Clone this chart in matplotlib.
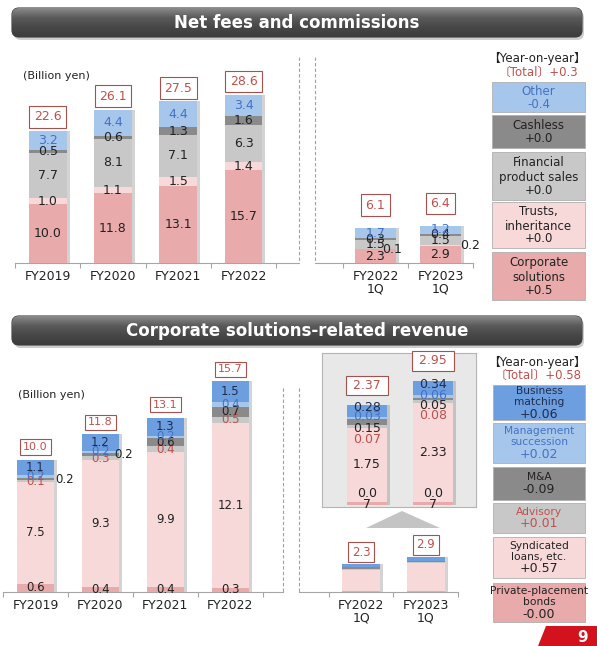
import numpy as np
import matplotlib.pyplot as plt
from matplotlib.patches import FancyBboxPatch, Rectangle, Polygon
from matplotlib.lines import Line2D
from matplotlib.colors import LinearSegmentedColormap

plt.rcParams['font.family'] = ['DejaVu Sans', 'Noto Sans CJK JP']

W, H = 597, 646

# Net fees and commissions (billion yen) #####################################
years = ['FY2019', 'FY2020', 'FY2021', 'FY2022']
quarters = ['FY2022\n1Q', 'FY2023\n1Q']
fee_names = ['Corporate\nsolutions', 'Trusts,\ninheritance',
             'Financial\nproduct sales', 'Cashless', 'Other']
fee_corp = [10.0, 11.8, 13.1, 15.7]
fee_trust = [1.0, 1.1, 1.5, 1.4]
fee_fin = [7.7, 8.1, 7.1, 6.3]
fee_cash = [0.5, 0.6, 1.3, 1.6]
fee_other = [3.2, 4.4, 4.4, 3.4]
fee_total = [22.6, 26.1, 27.5, 28.6]

q_fee_corp = [2.3, 2.9]
q_fee_trust = [0.1, 0.2]
q_fee_fin = [1.5, 1.5]
q_fee_cash = [0.3, 0.4]
q_fee_other = [1.7, 1.2]
q_fee_total = [6.1, 6.4]
fee_yoy = ['+0.5', '+0.0', '+0.0', '+0.0', '-0.4']
fee_yoy_total = '+0.3'

# Corporate solutions-related revenue (billion yen) ##########################
cs_names = ['Private-placement\nbonds', 'Syndicated\nloans, etc.', 'Advisory',
            'M&A', 'Management\nsuccession', 'Business\nmatching']
cs_ppb = [0.6, 0.4, 0.4, 0.3]
cs_synd = [7.5, 9.3, 9.9, 12.1]
cs_adv = [0.1, 0.3, 0.4, 0.5]
cs_ma = [0.2, 0.2, 0.6, 0.7]
cs_mgmt = [0.2, 0.2, 0.2, 0.4]
cs_bm = [1.1, 1.2, 1.3, 1.5]
cs_total = [10.0, 11.8, 13.1, 15.7]

q_cs_ppb = [0.07, 0.07]
q_cs_synd = [1.75, 2.33]
q_cs_adv = [0.07, 0.08]
q_cs_ma = [0.15, 0.05]
q_cs_mgmt = [0.03, 0.06]
q_cs_bm = [0.28, 0.34]
q_cs_total = [2.37, 2.95]
q_cs_total_short = [2.3, 2.9]
cs_yoy = ['-0.00', '+0.57', '+0.01', '-0.09', '+0.02', '+0.06']
cs_yoy_total = '+0.58'

# colours
PINK = '#e8aaaa'
LPINK = '#f8d9d9'
LGRAY = '#c8c8c8'
DGRAY = '#8a8a8a'
LBLUE = '#a6c6ec'
MBLUE = '#6c9ee0'
RED = '#c0504d'
BLUE = '#4472c4'
INK = '#222222'
NAVY = '#1f2d4d'
AXIS = '#a6a6a6'

fee_colors = [PINK, LPINK, LGRAY, DGRAY, LBLUE]
fee_txt = [INK, INK, INK, INK, BLUE]
cs_colors = [PINK, LPINK, LGRAY, DGRAY, LBLUE, MBLUE]
cs_txt = [INK, INK, RED, INK, BLUE, NAVY]

fig = plt.figure(figsize=(W / 100, H / 100), dpi=100)

# pixel-space overlay for banners, legends and decorations
ov = fig.add_axes([0, 0, 1, 1])
ov.axis('off')


def px_axes(x0, y0, x1, y1):
    return fig.add_axes([x0 / W, 1 - y1 / H, (x1 - x0) / W, (y1 - y0) / H])


def style_axis(ax, xlim, ylim, labels):
    ax.set_xlim(*xlim)
    ax.set_ylim(*ylim)
    ax.patch.set_alpha(0)
    for s in ['top', 'right', 'left']:
        ax.spines[s].set_visible(False)
    ax.spines['bottom'].set_color(AXIS)
    ax.spines['bottom'].set_linewidth(0.8)
    ax.set_yticks([])
    n = len(labels)
    ax.set_xticks(np.arange(n))
    ax.set_xticklabels(labels, fontsize=9, linespacing=1.0, color=INK)
    ax.set_xticks(np.arange(n + 1) - 0.5, minor=True)
    ax.tick_params(axis='x', which='major', length=0, pad=5)
    ax.tick_params(axis='x', which='minor', length=3.5, color=AXIS, width=0.8)


def draw_stack(ax, layers, colors, txt_colors, width, px_x, fs,
               fmt='{:.1f}', outside=None, nudge=None, wrap=(), labels=True):
    layers = np.asarray(layers, dtype=float)
    x = np.arange(layers.shape[1])
    tops = layers.sum(axis=0)
    ax.bar(x + 3.0 / px_x, tops, width, color='#6e6e6e', alpha=0.3,
           lw=0, zorder=2)
    base = np.zeros(len(x))
    for i, vals in enumerate(layers):
        ax.bar(x, vals, width, bottom=base, color=colors[i], lw=0, zorder=3)
        if labels:
            for j, v in enumerate(vals):
                s = fmt.format(v)
                if i in wrap:
                    s = s[:3] + '\n' + s[3:]
                xp = j + (outside or {}).get((i, j), 0)
                dy = (nudge[i] if nudge else 0) * 0.72
                ax.annotate(s, (xp, base[j] + v / 2), xytext=(0, dy),
                            textcoords='offset points', ha='center',
                            va='center', fontsize=fs, color=txt_colors[i],
                            linespacing=0.85, zorder=5)
        base = base + vals
    return tops


def total_boxes(ax, totals, fmt, fs, dy, pad):
    for j, t in enumerate(totals):
        ax.annotate(fmt.format(t), (j, t), xytext=(0, dy),
                    textcoords='offset points', ha='center', va='bottom',
                    fontsize=fs, color=RED, zorder=6,
                    bbox=dict(boxstyle='square,pad=%.2f' % pad, fc='white',
                              ec='#a8504c', lw=0.8))


# Net fees and commissions, full years ########################################
ax1 = px_axes(15, 50, 299, 263)
style_axis(ax1, (-0.5, 3.85), (0, 213 / 5.9), years)
draw_stack(ax1, [fee_corp, fee_trust, fee_fin, fee_cash, fee_other],
           fee_colors, fee_txt, 0.58, 65.3, 9)
total_boxes(ax1, fee_total, '{:.1f}', 9, 4.5, 0.35)

# Net fees and commissions, first quarters ###################################
ax2 = px_axes(315, 50, 473, 263)
style_axis(ax2, (-0.93, 1.5), (0, 213 / 5.9), quarters)
draw_stack(ax2, [q_fee_corp, q_fee_trust, q_fee_fin, q_fee_cash, q_fee_other],
           fee_colors, fee_txt, 0.64, 65, 9,
           outside={(1, 0): 0.26, (1, 1): 0.45})
total_boxes(ax2, q_fee_total, '{:.1f}', 9, 11, 0.35)

# Corporate solutions-related revenue, full years ############################
cs_layers = [cs_ppb, cs_synd, cs_adv, cs_ma, cs_mgmt, cs_bm]
ax3 = px_axes(3, 360, 283, 592)
style_axis(ax3, (-0.5, 3.81), (0, 232 / 13.6), years)
draw_stack(ax3, cs_layers, cs_colors, cs_txt, 0.58, 65, 8.5,
           outside={(3, 0): 0.44, (3, 1): 0.36})
total_boxes(ax3, cs_total, '{:.1f}', 8, 3, 0.25)

# first quarters, small bars
q_cs_layers = [q_cs_ppb, q_cs_synd, q_cs_adv, q_cs_ma, q_cs_mgmt, q_cs_bm]
ax4 = px_axes(299, 530, 458, 592)
style_axis(ax4, (-0.965, 1.5), (0, 62 / 12.1), quarters)
draw_stack(ax4, q_cs_layers, cs_colors, cs_txt, 0.59, 64.5, 8, labels=False)
total_boxes(ax4, q_cs_total_short, '{:.1f}', 8.5, 4, 0.3)

# first quarters, magnified
ax5 = px_axes(322, 353, 476, 507)
ax5.set_xlim(-0.68, 1.65)
ax5.set_ylim(-2 / 42.4, 152 / 42.4)
ax5.set_facecolor('#e8e8e8')
for s in ax5.spines.values():
    s.set_color('#b4b4b4')
    s.set_linewidth(0.8)
ax5.set_xticks([])
ax5.set_yticks([])
draw_stack(ax5, q_cs_layers, cs_colors, cs_txt, 0.6, 66, 9, fmt='{:.2f}',
           nudge=[4.5, 0, -13.5, -6.5, 1, 3.5], wrap=(0,))
total_boxes(ax5, q_cs_total, ' {:.2f} ', 9, 9, 0.25)

# pixel-space decorations ######################################################
grad_cmap = LinearSegmentedColormap.from_list(
    'banner', ['#8a8a8a', '#5a5a5a', '#474747', '#3c3c3c'])


def banner(y0, h, title):
    sh = FancyBboxPatch((14, y0 + 3), 570, h,
                        boxstyle='round,pad=0,rounding_size=7',
                        fc='#cdcdcd', ec='none', zorder=1)
    ov.add_patch(sh)
    box = FancyBboxPatch((12, y0), 570, h,
                         boxstyle='round,pad=0,rounding_size=7',
                         fc='#555555', ec='#3a3a3a', lw=0.8, zorder=2)
    ov.add_patch(box)
    grad = np.linspace(0, 1, 64).reshape(-1, 1)
    im = ov.imshow(grad, cmap=grad_cmap, extent=(12, 582, y0 + h, y0),
                   aspect='auto', zorder=2.5)
    im.set_clip_path(box)
    ov.text(297, y0 + h / 2 + 0.5, title, color='white', fontsize=12,
            fontweight='bold', ha='center', va='center', zorder=3)


banner(8, 29, 'Net fees and commissions')
banner(316, 29, 'Corporate solutions-related revenue')

ov.text(23, 76, '(Billion yen)', fontsize=8, color=INK, va='center')
ov.text(18, 395, '(Billion yen)', fontsize=8, color=INK, va='center')

# dashed separators
for x, y0, y1 in [(299, 57, 263), (315, 57, 263), (283, 388, 592), (299, 388, 592)]:
    ov.add_line(Line2D([x, x], [y0, y1], color='#a0a0a0', lw=0.8,
                       dashes=(3, 2), zorder=3))


def legend_column(x0, x1, boxes, names, changes, face, txt, fs, chg_fs,
                  line_px):
    for (y0, y1), name, chg, fc, tc in zip(boxes, names, changes, face, txt):
        ov.add_patch(Rectangle((x0, y0), x1 - x0, y1 - y0, fc=fc,
                               ec='#b0b0b0', lw=0.6, zorder=2))
        n = name.count('\n') + 1
        chg_px = chg_fs * 1.39
        block = n * line_px + chg_px
        top = (y0 + y1) / 2 - block / 2
        ov.text((x0 + x1) / 2, top + n * line_px / 2, name,
                ha='center', va='center', fontsize=fs, color=tc,
                linespacing=line_px / (fs * 1.39), zorder=3)
        ov.text((x0 + x1) / 2, top + n * line_px + chg_px / 2, chg,
                ha='center', va='center', fontsize=chg_fs, color=tc, zorder=3)


ov.text(537, 58, '【Year-on-year】', ha='center', va='center', fontsize=8.5,
        color=INK)
ov.text(538, 72, '〔Total〕' + fee_yoy_total, ha='center', va='center',
        fontsize=8.5, color=RED)
legend_column(492, 585,
              [(252, 300), (202, 248), (152, 200), (115, 148), (82, 112)],
              fee_names, fee_yoy, fee_colors, fee_txt, 8.5, 8.5, 14)

ov.text(537, 362, '【Year-on-year】', ha='center', va='center', fontsize=8.5,
        color=INK)
ov.text(538, 375, '〔Total〕' + cs_yoy_total, ha='center', va='center',
        fontsize=8.5, color=RED)
legend_column(493, 585,
              [(583, 622), (537, 578), (503, 533), (467, 500), (423, 463), (385, 420)],
              cs_names, cs_yoy, cs_colors, cs_txt, 7.7, 9, 11.5)

# pointer from small bars up to the magnified view
ov.add_patch(Polygon([(366, 528), (402, 511), (440, 528)], closed=True,
                     fc='#c4c4c4', ec='none', zorder=2))

# page number tab
ov.add_patch(Polygon([(538, 646), (546, 626), (597, 626), (597, 646)],
                     closed=True, fc='#d2121c', ec='none', zorder=2))
ov.text(583, 637, '9', color='white', fontsize=11, fontweight='bold',
        ha='center', va='center', zorder=3)

ov.set_xlim(0, W)
ov.set_ylim(H, 0)

fig.savefig('out.png', dpi=100)
